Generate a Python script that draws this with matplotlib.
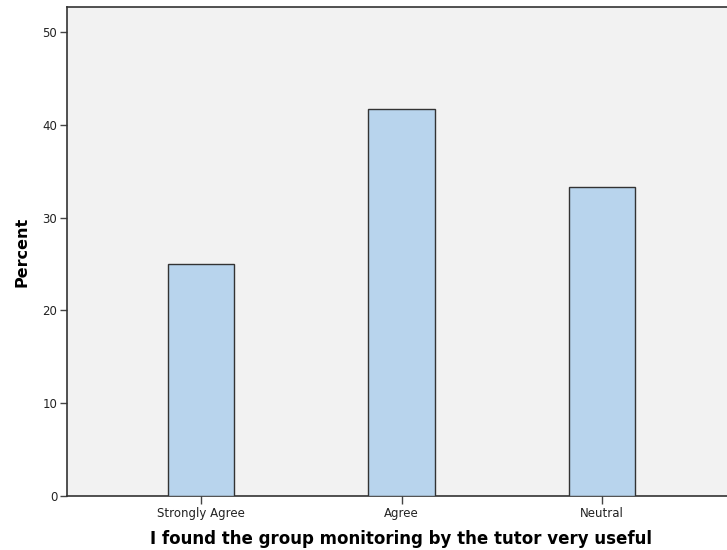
import matplotlib
matplotlib.use("Agg")
import matplotlib.pyplot as plt

categories = ["Strongly Agree", "Agree", "Neutral"]
percents = [25.0, 41.67, 33.33]
yticks = [0, 10, 20, 30, 40, 50]

fig = plt.figure(figsize=(7.27, 5.5), dpi=100)
W, H = 727, 550
ax = fig.add_axes([67 / W, (H - 496) / H, (745 - 67) / W, (496 - 7) / H])
ax.set_facecolor("#f2f2f2")

x = list(range(len(categories)))
ax.bar(x, percents, width=0.33, color="#b8d4ed", edgecolor="#333333", linewidth=1.0, zorder=3)

ppu = 200.5
ax.set_xlim(-(201 - 67) / ppu, -(201 - 67) / ppu + (745 - 67) / ppu)
ax.set_ylim(0, 52.7)
ax.set_xticks(x)
ax.set_xticklabels(categories, fontsize=8.5, color="#222222")
ax.set_yticks(yticks)
ax.set_yticklabels([str(t) for t in yticks], fontsize=8.5, color="#222222")
ax.tick_params(axis="y", direction="out", length=5, width=1, color="#444444", pad=2)
ax.tick_params(axis="x", direction="out", length=6, width=1, color="#444444", pad=2)

for s in ["left", "bottom", "top"]:
    ax.spines[s].set_color("#333333")
    ax.spines[s].set_linewidth(1.2)
ax.spines["right"].set_visible(False)

ax.set_ylabel("Percent", fontsize=11.5, fontweight="bold", labelpad=9)
ax.set_xlabel("I found the group monitoring by the tutor very useful", fontsize=12,
              fontweight="bold", labelpad=8)
ax.xaxis.set_label_coords((401 - 67) / (745 - 67), -0.069)

fig.savefig("out.png", dpi=100, facecolor="white")
